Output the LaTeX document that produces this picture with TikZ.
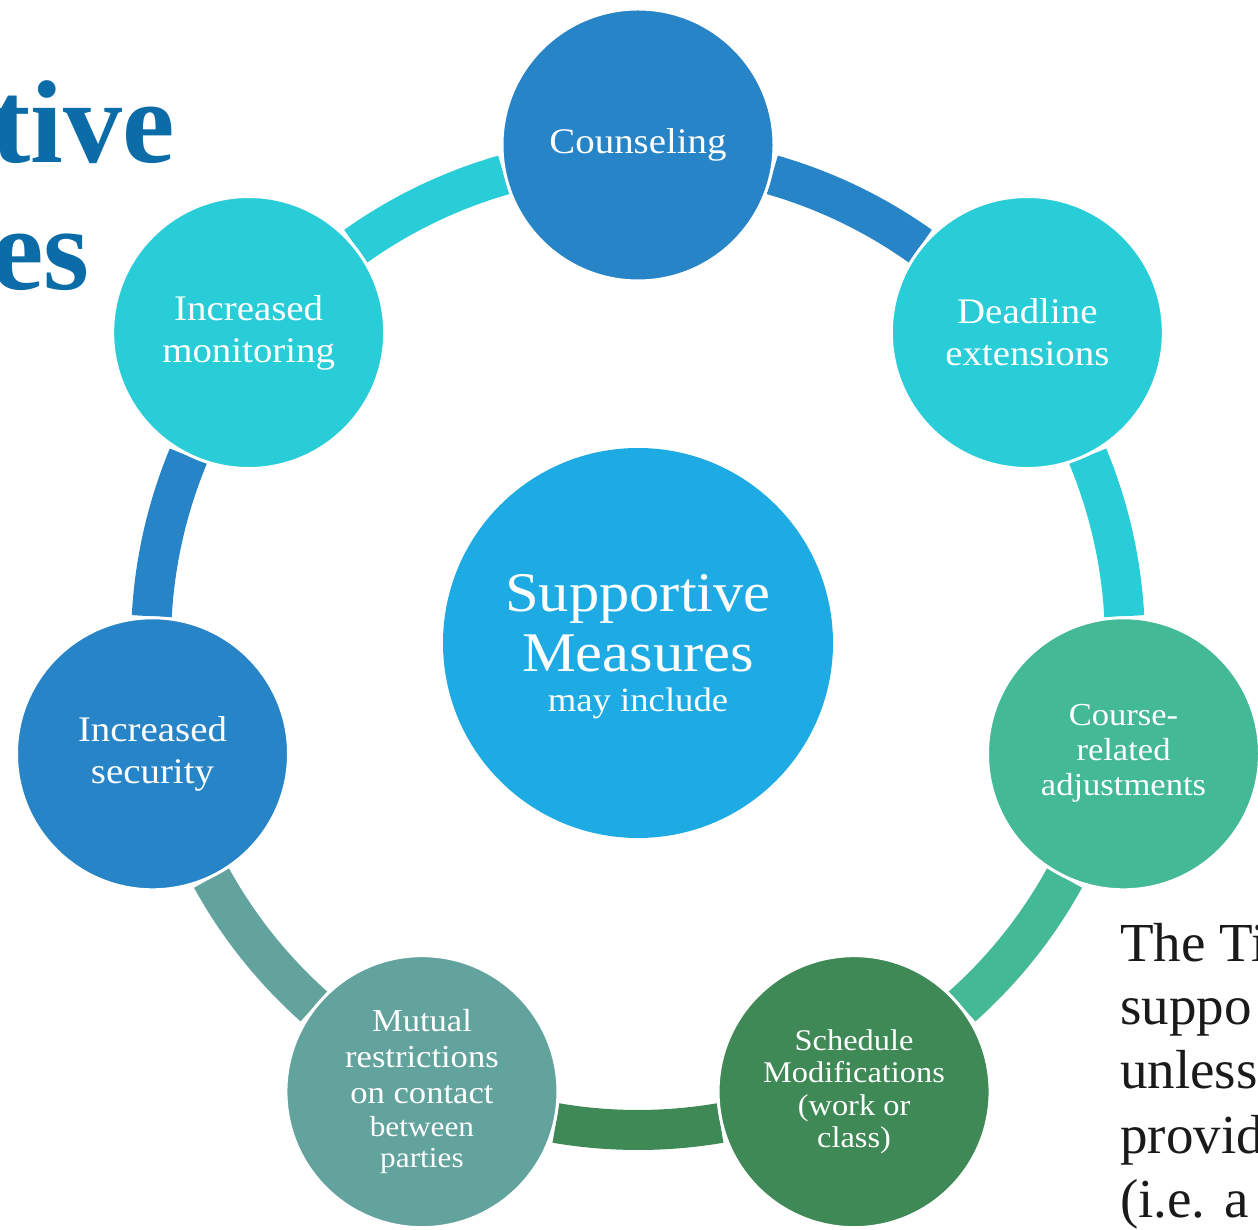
\documentclass[tikz,border=0pt]{standalone}
\usepackage{fontspec}
\setmainfont[FakeStretch=1.08]{Liberation Serif}
\newfontfamily\plainserif{Liberation Serif}
\definecolor{cDBlue}{RGB}{39,132,199}
\definecolor{cCyan}{RGB}{41,205,216}
\definecolor{cMid}{RGB}{30,171,227}
\definecolor{cCourse}{RGB}{67,185,150}
\definecolor{cSched}{RGB}{62,137,85}
\definecolor{cMutual}{RGB}{99,163,157}
\definecolor{cTitle}{RGB}{11,108,167}
\definecolor{cText}{RGB}{26,26,26}
\begin{document}
\begin{tikzpicture}[x=1pt,y=1pt,
  bub/.style={circle, draw=white, line width=3pt, minimum size=272pt, inner sep=0pt,
    text=white, align=center, font=\fontsize{36}{42}\selectfont},
  ringseg/.style={line width=40pt},
  titletext/.style={text=cTitle, inner sep=0pt, anchor=base east, font=\plainserif\fontsize{118}{127}\selectfont\bfseries},
  bodytext/.style={text=cText, inner sep=0pt, anchor=base west, font=\plainserif\fontsize{55}{64}\selectfont}]
\useasboundingbox (0,0) rectangle (1258,1229);
\clip (0,0) rectangle (1258,1229);
% left title fragments
\node[titletext] (tA) at (175,1066) {tive};
\node[titletext] (tB) at (90,939) {es};
% right body fragments
\node[bodytext] (b1) at (1120,267) {The Ti};
\node[bodytext] (b2) at (1120,204) {suppo};
\node[bodytext] (b3) at (1120,140) {unless};
\node[bodytext] (b4) at (1120,76) {provid};
\node[bodytext] (b5) at (1120,12) {(i.e. a};
\begin{scope}[shift={(638,586)}]
  % ring segments
  \draw[ringseg, draw=cDBlue]   (74:487)      arc[start angle=74,      end angle=54.571,   radius=487];
  \draw[ringseg, draw=cCyan]    (22.571:487)  arc[start angle=22.571,  end angle=3.143,    radius=487];
  \draw[ringseg, draw=cCourse]  (-28.857:487) arc[start angle=-28.857, end angle=-48.286,  radius=487];
  \draw[ringseg, draw=cSched]   (-80.286:487) arc[start angle=-80.286, end angle=-99.714,  radius=487];
  \draw[ringseg, draw=cMutual]  (-131.714:487) arc[start angle=-131.714, end angle=-151.143, radius=487];
  \draw[ringseg, draw=cDBlue]   (-183.143:487) arc[start angle=-183.143, end angle=-202.571, radius=487];
  \draw[ringseg, draw=cCyan]    (125.429:487) arc[start angle=125.429, end angle=106,      radius=487];
  % centre
  \node[circle, fill=cMid, minimum size=390pt, inner sep=0pt] (mid) at (0,0) {};
  \node[text=white, inner sep=0pt, anchor=base, font=\fontsize{56}{60}\selectfont] (midA) at (0,31) {Supportive};
  \node[text=white, inner sep=0pt, anchor=base, font=\fontsize{56}{60}\selectfont] (midB) at (0,-29) {Measures};
  \node[text=white, inner sep=0pt, anchor=base, font=\fontsize{34}{40}\selectfont] (midC) at (0,-69) {may include};
  % outer bubbles
  \node[bub, fill=cDBlue] (counsel) at (90:498) {\raisebox{-3pt}{Counseling}};
  \node[bub, fill=cCyan] (deadline) at (38.571:498) {Deadline\\extensions};
  \node[bub, fill=cCourse, font=\fontsize{32}{35}\selectfont] (course) at (-12.857:498) {Course-\\related\\adjustments};
  \node[bub, fill=cSched, font=\fontsize{30}{32.5}\selectfont] (sched) at (-64.286:498) {Schedule\\Modifications\\(work or\\class)};
  \node[bub, fill=cMutual, font=\fontsize{32}{36}\selectfont] (mutual) at (-115.714:498)
    {Mutual\\restrictions\\on contact\\[-3pt]{\fontsize{29}{32}\selectfont between}\\[-5pt]{\fontsize{29}{32}\selectfont parties}};
  \node[bub, fill=cDBlue] (security) at (-167.143:498) {Increased\\security};
  \node[bub, fill=cCyan] (monitor) at (141.429:498) {Increased\\monitoring};
\end{scope}
\end{tikzpicture}
\end{document}
